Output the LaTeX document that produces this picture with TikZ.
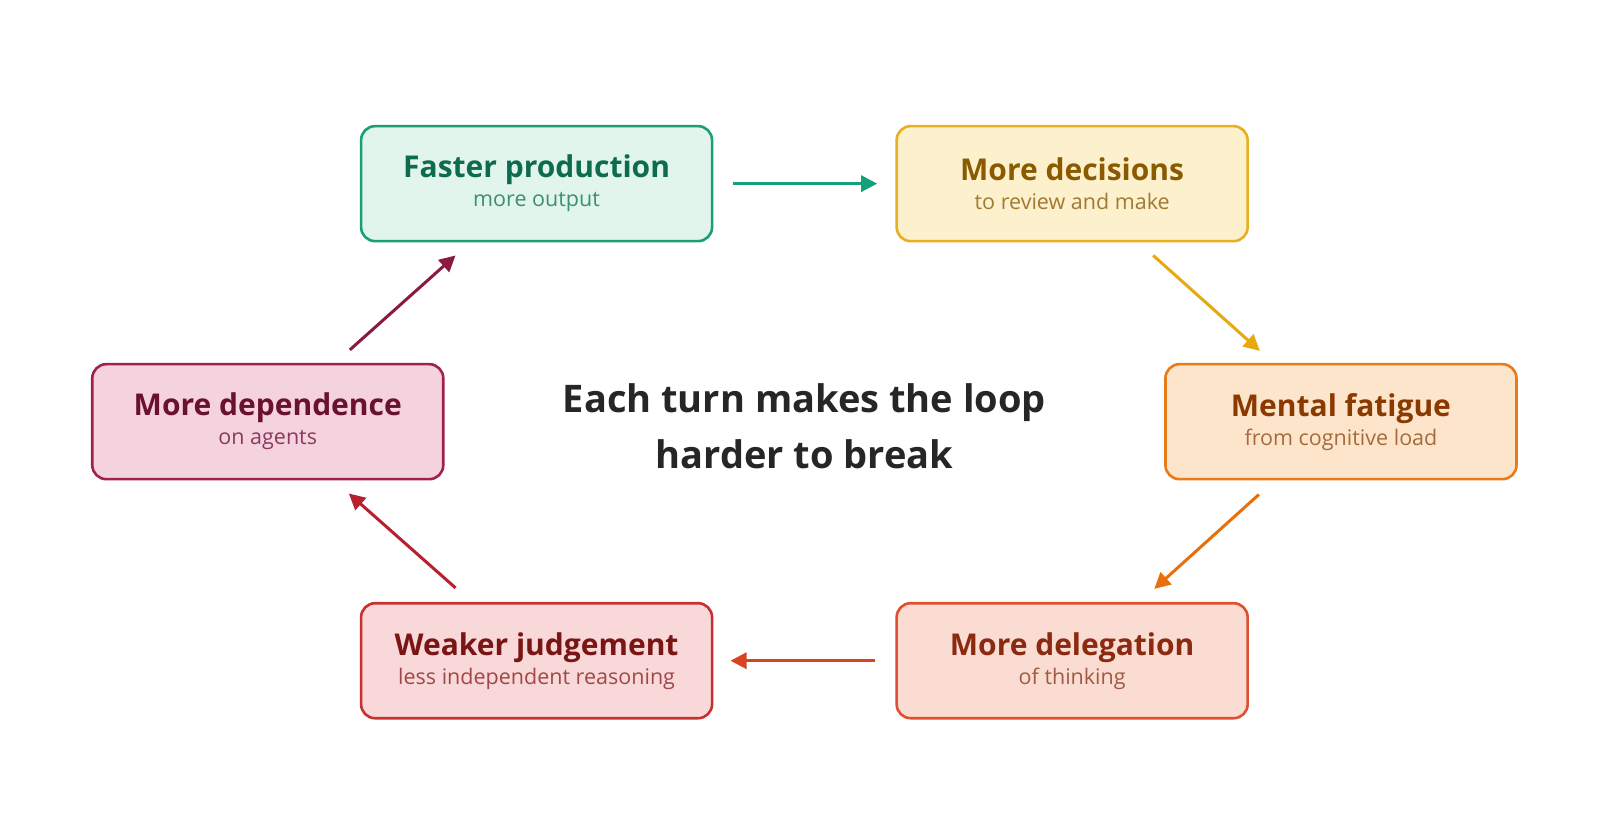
\documentclass[tikz,border=0pt]{standalone}
\usepackage{fontspec}
\setmainfont{Open Sans}
\usetikzlibrary{arrows.meta}
\definecolor{gB}{HTML}{1A9E78}\definecolor{gF}{HTML}{E1F5EC}\definecolor{gT}{HTML}{0D6B4F}\definecolor{gS}{HTML}{3D8F72}
\definecolor{yB}{HTML}{E8B020}\definecolor{yF}{HTML}{FDF0CC}\definecolor{yT}{HTML}{8A5A00}\definecolor{yS}{HTML}{A07A30}
\definecolor{oB}{HTML}{E87A1A}\definecolor{oF}{HTML}{FDE5CC}\definecolor{oT}{HTML}{8A3A00}\definecolor{oS}{HTML}{A86A3A}
\definecolor{dB}{HTML}{E05030}\definecolor{dF}{HTML}{FADCD2}\definecolor{dT}{HTML}{8A2A10}\definecolor{dS}{HTML}{A05A40}
\definecolor{wB}{HTML}{C83030}\definecolor{wF}{HTML}{F8D8D8}\definecolor{wT}{HTML}{7A1515}\definecolor{wS}{HTML}{A04848}
\definecolor{mB}{HTML}{A02050}\definecolor{mF}{HTML}{F4D2DE}\definecolor{mT}{HTML}{6A1030}\definecolor{mS}{HTML}{8A3A5A}
\definecolor{aG}{HTML}{13A07A}\definecolor{aY}{HTML}{E8A810}\definecolor{aO}{HTML}{E8700A}\definecolor{aD}{HTML}{D84420}\definecolor{aR}{HTML}{B82030}\definecolor{aM}{HTML}{8A1A40}
\tikzset{
 card/.style={draw=#1B, fill=#1F, line width=2.6pt, rounded corners=14pt, minimum width=351pt, minimum height=115pt, inner sep=0pt},
 arr/.style={draw=#1, line width=3pt, -{Triangle[length=16pt,width=16pt]}}
}
\newcommand{\cardtext}[3]{\parbox{348pt}{\centering\fontsize{30}{37}\selectfont\bfseries\color{#1T}#2\\[2pt]\fontsize{21.5}{27}\selectfont\mdseries\color{#1S}#3}}
\begin{document}
\begin{tikzpicture}[x=1.026pt,y=-1.026pt]
\useasboundingbox (0,0) rectangle (1559.5,818.7);
\fill[white] (0,0) rectangle (1559.5,818.7);
\node[card=g] (a) at (523,179) {\cardtext{g}{Faster production}{more output}};
\node[card=y] (b) at (1045,179) {\cardtext{y}{More decisions}{to review and make}};
\node[card=o] (c) at (1307,411) {\cardtext{o}{Mental fatigue}{from cognitive load}};
\node[card=d] (d) at (1045,644) {\cardtext{d}{More delegation}{of thinking}};
\node[card=w] (e) at (523,644) {\cardtext{w}{Weaker judgement}{less independent reasoning}};
\node[card=m] (f) at (261,411) {\cardtext{m}{More dependence}{on agents}};
\node[align=center, font=\fontsize{38}{56}\selectfont\bfseries, text=black!85] (t) at (784,415) {Each turn makes the loop\\harder to break};
\coordinate (a1) at (714,179); \coordinate (a2) at (855,179);
\coordinate (b1) at (1124,249); \coordinate (b2) at (1228,342);
\coordinate (c1) at (1227,482); \coordinate (c2) at (1125,574);
\coordinate (d1) at (853,644); \coordinate (d2) at (712,644);
\coordinate (e1) at (444,573); \coordinate (e2) at (340,481);
\coordinate (f1) at (341,341); \coordinate (f2) at (444,249);
\draw[arr=aG] (a1) -- (a2);
\draw[arr=aY] (b1) -- (b2);
\draw[arr=aO] (c1) -- (c2);
\draw[arr=aD] (d1) -- (d2);
\draw[arr=aR] (e1) -- (e2);
\draw[arr=aM] (f1) -- (f2);
\end{tikzpicture}
\end{document}
